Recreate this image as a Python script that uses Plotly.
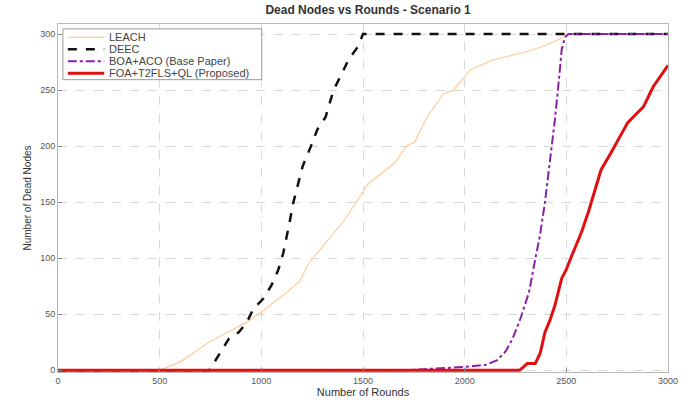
import plotly.graph_objects as go

leach_x = [0, 500, 605, 750, 929, 1000, 1100, 1187, 1235, 1320, 1413, 1524, 1655, 1718, 1752, 1815, 1897, 1945, 2027, 2139, 2299, 2400, 2463, 2520, 3000]
leach_y = [0, 0, 8, 26, 43, 52, 66, 79, 96, 115, 135, 166, 185, 201, 203, 226, 247, 250, 268, 277, 284, 290, 295, 300, 300]

deec_x = [0, 744, 792, 840, 889, 929, 961, 1010, 1050, 1082, 1107, 1123, 1139, 1155, 1171, 1203, 1244, 1276, 1316, 1355, 1397, 1428, 1476, 1500, 3000]
deec_y = [0, 0, 14, 28, 34, 43, 55, 64, 76, 89, 104, 117, 132, 148, 159, 182, 200, 215, 226, 250, 265, 277, 289, 300, 300]

boa_x = [0, 1700, 1800, 1900, 2000, 2105, 2160, 2202, 2235, 2274, 2317, 2347, 2370, 2395, 2420, 2444, 2465, 2477, 2493, 2510, 3000]
boa_y = [0, 0, 1, 2, 3, 5, 9, 17, 28, 46, 70, 99, 120, 150, 188, 224, 262, 286, 297, 300, 300]

foa_x = [0, 2270, 2308, 2347, 2371, 2395, 2420, 2444, 2477, 2500, 2526, 2574, 2608, 2640, 2671, 2719, 2760, 2802, 2840, 2879, 2927, 2960, 3000]
foa_y = [0, 0, 6, 6, 15, 34, 45, 58, 82, 90, 102, 123, 141, 160, 179, 194, 208, 221, 228, 235, 253, 262, 272]

series_names = ["LEACH", "DEEC", "BOA+ACO (Base Paper)", "FOA+T2FLS+QL (Proposed)"]
series = [(leach_x, leach_y), (deec_x, deec_y), (boa_x, boa_y), (foa_x, foa_y)]
styles = [dict(color="#FFCC99", width=1.2, dash="solid"),
          dict(color="#111111", width=2.5, dash="dash"),
          dict(color="#8A1FA8", width=2, dash="dashdot"),
          dict(color="#E01010", width=3, dash="solid")]

fig = go.Figure()
for name, (xs, ys), st in zip(series_names, series, styles):
    fig.add_trace(go.Scatter(x=xs, y=ys, mode="lines", name=name, line=st, showlegend=False))

# compact legend box (MATLAB style) drawn in paper coordinates
fig.add_shape(type="rect", xref="paper", yref="paper", x0=0.008, x1=0.334, y0=0.84, y1=0.986,
              line=dict(color="#999999", width=1), fillcolor="white", layer="above")
row_y = [0.9614, 0.9271, 0.8929, 0.8586]
for name, st, ry in zip(series_names, styles, row_y):
    fig.add_shape(type="line", xref="paper", yref="paper", x0=0.0161, x1=0.0758, y0=ry, y1=ry,
                  line=dict(color=st["color"], width=st["width"], dash=st["dash"]), layer="above")
    fig.add_annotation(text=name, xref="paper", yref="paper", x=0.0806, y=ry,
                       xanchor="left", yanchor="middle", showarrow=False,
                       font=dict(family="Liberation Sans, Arial", size=11, color="#444444"))

axis_common = dict(showgrid=True, gridcolor="#d8d8d8", griddash="dash", gridwidth=1,
                   showline=True, linecolor="#b8b8b8", linewidth=1, mirror=True,
                   ticks="inside", ticklen=4, tickcolor="#888888",
                   tickfont=dict(family="Liberation Sans, Arial", size=9, color="#555555"),
                   zeroline=False)

fig.update_layout(
    width=688, height=405,
    margin=dict(l=58, r=10, t=24, b=31),
    plot_bgcolor="white", paper_bgcolor="white",
    title=dict(text="<b>Dead Nodes vs Rounds - Scenario 1</b>", x=0.535, xanchor="center",
               y=0.975, yanchor="middle",
               font=dict(family="Liberation Sans, Arial", size=12, color="#333333")),
    xaxis=dict(range=[0, 3000], tickvals=[0, 500, 1000, 1500, 2000, 2500, 3000],
               title=dict(text="Number of Rounds", standoff=2,
                          font=dict(family="Liberation Sans, Arial", size=11, color="#333333")),
               **axis_common),
    yaxis=dict(range=[-1.5, 309], tickvals=[0, 50, 100, 150, 200, 250, 300],
               title=dict(text="Number of Dead Nodes", standoff=6,
                          font=dict(family="Liberation Sans, Arial", size=10, color="#333333")),
               **axis_common),
    showlegend=False,
)

fig.write_html("out.html")
